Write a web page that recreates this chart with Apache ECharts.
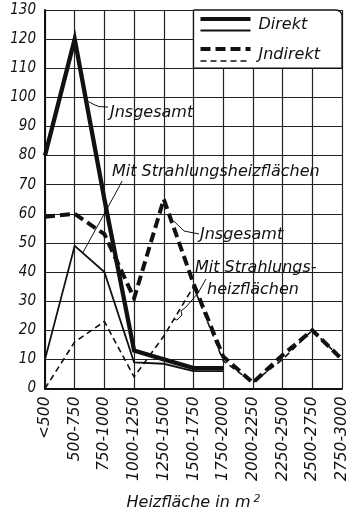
<!DOCTYPE html>
<html>
<head>
<meta charset="utf-8">
<script src="https://cdn.jsdelivr.net/npm/echarts@6/dist/echarts.min.js"></script>
<style>
  html, body { margin: 0; padding: 0; background: #ffffff; }
  #chart { width: 350px; height: 516px; }
</style>
</head>
<body>
<div id="chart"></div>
<script>
// Heating-surface size classes (m²)
const categories = ['<500', '500-750', '750-1000', '1000-1250', '1250-1500', '1500-1750',
                    '1750-2000', '2000-2250', '2250-2500', '2500-2750', '2750-3000'];

// Y axis range and step
const yMin = 0;
const yMax = 130;
const yStep = 10;

// Direct heating: total and with radiant heating surfaces
const direktGesamt    = [80, 120, 65, 13, 10, 7, 7, null, null, null, null];
const direktStrahlung = [10, 49, 40, 9, 8.5, 6, 6, null, null, null, null];

// Indirect heating: total and with radiant heating surfaces
const indirektGesamt    = [59, 60, 53, 31, 65, 36, 11, 2, 11.5, 20, 10];
const indirektStrahlung = [0, 16, 23, 4, 18, 35, 9.5, 2, 10, 20, 10];

const FONT = 'DejaVu Sans';
const INK = '#111111';

const chart = echarts.init(document.getElementById('chart'), null, { renderer: 'canvas' });

function lineSeries(name, data, width, dash, z) {
  return {
    name: name,
    type: 'line',
    data: data,
    showSymbol: false,
    symbol: 'none',
    connectNulls: false,
    z: z,
    lineStyle: { color: INK, width: width, type: dash, cap: 'butt', join: 'miter', miterLimit: 12 },
    emphasis: { disabled: true }
  };
}

chart.setOption({
  animation: false,
  backgroundColor: '#ffffff',
  grid: { left: 45, right: 8, top: 10, bottom: 116, containLabel: false },
  xAxis: {
    type: 'category',
    data: categories,
    boundaryGap: false,
    axisLine: { show: true, lineStyle: { color: INK, width: 2 } },
    axisTick: { show: false },
    splitLine: { show: true, interval: 0, lineStyle: { color: '#222', width: 1.2 } },
    axisLabel: {
      interval: 0, rotate: 90, margin: 8,
      fontFamily: FONT, fontStyle: 'italic', fontSize: 15.5, color: INK
    },
    name: '{t|Heizfläche in m}{s|2}',
    nameLocation: 'middle',
    nameGap: 105,
    nameTextStyle: {
      rich: {
        t: { fontFamily: FONT, fontStyle: 'italic', fontSize: 16, color: INK },
        s: { fontFamily: FONT, fontStyle: 'italic', fontSize: 11, color: INK, verticalAlign: 'top', padding: [0, 0, 8, 3] }
      }
    }
  },
  yAxis: {
    type: 'value',
    min: yMin, max: yMax, interval: yStep,
    axisLine: { show: true, lineStyle: { color: INK, width: 2 } },
    axisTick: { show: false },
    splitLine: { show: true, lineStyle: { color: '#222', width: 1.2 } },
    axisLabel: {
      margin: 9, fontFamily: 'DejaVu Sans Condensed', fontStyle: 'italic', fontSize: 15, color: INK
    }
  },
  series: [
    lineSeries('Jndirekt mit Strahlungsheizflächen', indirektStrahlung, 1.6, [6, 4], 2),
    lineSeries('Direkt mit Strahlungsheizflächen', direktStrahlung, 1.8, 'solid', 3),
    lineSeries('Jndirekt insgesamt', indirektGesamt, 4, [10, 5], 4),
    lineSeries('Direkt insgesamt', direktGesamt, 4.3, 'solid', 5)
  ]
});

// Helpers for annotation placement
function px(i, v) { return chart.convertToPixel({ gridIndex: 0 }, [i, v]); }
function along(i, arr, t) {
  const a = px(i, arr[i]);
  const b = px(i + 1, arr[i + 1]);
  return [a[0] + (b[0] - a[0]) * t, a[1] + (b[1] - a[1]) * t];
}

const leftCol = px(5, yMax);      // legend box left edge on the 1500-1750 grid line
const rightCol = px(10, yMax);
const boxBottom = px(0, 110)[1];

const txt = (x, y, text, size) => ({
  type: 'text', z: 120, x: x, y: y,
  style: {
    text: text, fill: INK, font: 'italic ' + (size || 16) + 'px "' + FONT + '"',
    textAlign: 'left', textVerticalAlign: 'middle'
  }
});
const poly = (pts, w, dash) => ({
  type: 'polyline', z: 110,
  shape: { points: pts },
  style: { stroke: INK, lineWidth: w, fill: null, lineDash: dash || null, lineCap: 'butt' }
});

// Anchor points on the curves for the leader lines
const a1 = along(1, direktGesamt, 0.39);
const a2 = along(1, direktStrahlung, 0.27);
const a3 = along(4, indirektGesamt, 0.27);
const a4 = along(4, indirektStrahlung, 0.34);

const legendX0 = leftCol[0] + 7;
const legendX1 = leftCol[0] + 57;

chart.setOption({
  graphic: [
    // legend box
    {
      type: 'rect', z: 100,
      shape: { x: leftCol[0], y: leftCol[1], width: rightCol[0] - leftCol[0], height: boxBottom - leftCol[1], r: [0, 6, 0, 0] },
      style: { fill: '#ffffff', stroke: INK, lineWidth: 1.3 }
    },
    poly([[legendX0, 19], [legendX1, 19]], 4),
    poly([[legendX0, 30.5], [legendX1, 30.5]], 1.8),
    txt(legendX1 + 8, 25, 'Direkt'),
    poly([[legendX0, 49], [legendX1, 49]], 4, [10, 5]),
    poly([[legendX0, 61], [legendX1, 61]], 1.6, [6, 4]),
    txt(legendX1 + 8, 55, 'Jndirekt'),

    // annotations: direct heating
    poly([[a1[0] + 2, a1[1]], [94, a1[1] + 3], [99, a1[1] + 5], [108, a1[1] + 5.5]], 1),
    txt(110, 113, 'Jnsgesamt'),
    poly([[122, 181], [119, 187], [a2[0], a2[1]]], 1),
    txt(112, 172, 'Mit Strahlungsheizflächen'),

    // annotations: indirect heating
    poly([[a3[0] + 2, a3[1] - 1], [184, 231], [199, 234]], 1),
    txt(200, 235, 'Jnsgesamt'),
    poly([[206, 279], [198, 293], [186, 307], [181, 311], [182, 315], [177, 320], [a4[0], a4[1]]], 1),
    txt(195, 268, 'Mit Strahlungs-'),
    txt(207, 290, 'heizflächen')
  ]
});
</script>
</body>
</html>
